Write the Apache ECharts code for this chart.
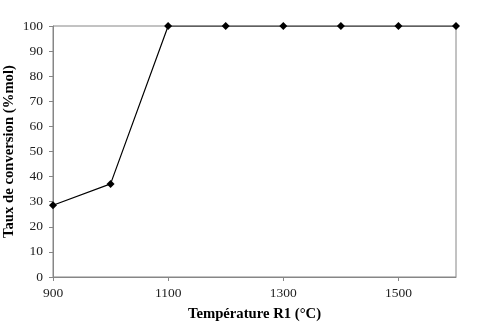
<!DOCTYPE html>
<html>
<head>
<meta charset="utf-8">
<script src="https://cdn.jsdelivr.net/npm/echarts@6/dist/echarts.min.js"></script>
<style>html,body{margin:0;padding:0;background:#fff}#c{width:493px;height:328px}</style>
</head>
<body>
<div id="c"></div>
<script>
const temperatures = [900, 1000, 1100, 1200, 1300, 1400, 1500, 1600];
const conversion = [28.6, 37.1, 100, 100, 100, 100, 100, 100];
const xTickLabels = [900, 1100, 1300, 1500];
const yTickLabels = [0, 10, 20, 30, 40, 50, 60, 70, 80, 90, 100];

const chart = echarts.init(document.getElementById('c'));
const font = '"Liberation Serif", "Times New Roman", serif';
chart.setOption({
  animation: false,
  grid: { left: 53, top: 26, right: 37, bottom: 51, show: true, borderColor: '#868686', borderWidth: 1, outerBoundsMode: 'none', containLabel: false },
  xAxis: {
    type: 'value', min: 900, max: 1600,
    name: 'Température R1 (°C)', nameLocation: 'middle', nameGap: 30, nameMoveOverlap: false,
    nameTextStyle: { fontFamily: font, fontSize: 14.7, fontWeight: 'bold', color: '#000' },
    axisLine: { show: true, lineStyle: { color: '#868686', width: 1 } },
    axisTick: { show: true, inside: false, length: 4, customValues: xTickLabels, lineStyle: { color: '#868686' } },
    axisLabel: { customValues: xTickLabels, formatter: v => String(v), fontFamily: font, fontSize: 13.5, color: '#222', margin: 9 },
    splitLine: { show: false }
  },
  yAxis: {
    type: 'value', min: 0, max: 100, interval: 10,
    name: 'Taux de conversion (%mol)', nameLocation: 'middle', nameGap: 36, nameRotate: 90, nameMoveOverlap: false,
    nameTextStyle: { fontFamily: font, fontSize: 14.7, fontWeight: 'bold', color: '#000' },
    axisLine: { show: true, lineStyle: { color: '#868686', width: 1 } },
    axisTick: { show: true, inside: false, length: 4, lineStyle: { color: '#868686' } },
    axisLabel: { fontFamily: font, fontSize: 13.5, color: '#222', margin: 10, customValues: yTickLabels },
    splitLine: { show: false }
  },
  series: [{
    type: 'line',
    data: temperatures.map((t, i) => [t, conversion[i]]),
    symbol: 'diamond', symbolSize: 8,
    lineStyle: { color: '#000', width: 1.2 },
    itemStyle: { color: '#000' },
    z: 5
  }]
});
</script>
</body>
</html>
